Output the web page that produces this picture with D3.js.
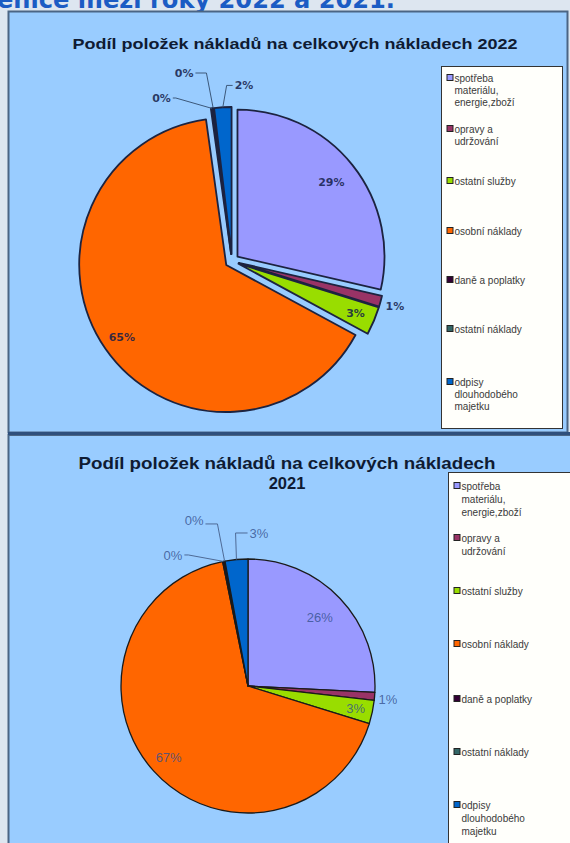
<!DOCTYPE html>
<html><head><meta charset="utf-8">
<script src="https://cdn.jsdelivr.net/npm/d3@7"></script>
<style>html,body{margin:0;padding:0;background:#dde6f0;overflow:hidden}</style>
</head><body><svg id="c" width="570" height="843"></svg>
<script>
// ---------- data ----------
const categories = ["spotřeba materiálu, energie,zboží","opravy a udržování","ostatní služby","osobní náklady","daně a poplatky","ostatní náklady","odpisy dlouhodobého majetku"];
const legendLines = [["spotřeba","materiálu,","energie,zboží"],["opravy a","udržování"],["ostatní služby"],["osobní náklady"],["daně a poplatky"],["ostatní náklady"],["odpisy","dlouhodobého","majetku"]];
const values2022 = [28.6, 1.2, 3.1, 64.9, 0.2, 0.1, 1.9];
const values2021 = [25.8, 1.0, 3.0, 67.0, 0.2, 0.1, 2.9];
const labels2022 = ["29%","1%","3%","65%","0%","0%","2%"];
const labels2021 = ["26%","1%","3%","67%","0%","0%","3%"];
const pageHeading = "enice mezi roky 2022 a 2021.";
const title2022 = "Podíl položek nákladů na celkových nákladech 2022";
const title2021 = ["Podíl položek nákladů na celkových nákladech","2021"];

// ---------- style ----------
const colors = ["#9999ff","#993366","#99dd00","#ff6600","#330033","#336666","#0066cc"];

const svg = d3.select("#c");

// page heading (cut off at top)
svg.append("text").attr("x",-3).attr("y",8)
  .attr("font-family","DejaVu Sans").attr("font-weight","bold").attr("font-size",24)
  .attr("fill","#1b5cc4").attr("textLength",398).attr("lengthAdjust","spacingAndGlyphs")
  .text(pageHeading);

// panels
svg.append("rect").attr("x",8.5).attr("y",11.5).attr("width",559).attr("height",421)
  .attr("fill","#99ccff").attr("stroke","#4b6584").attr("stroke-width",2);
svg.append("rect").attr("x",8.5).attr("y",435).attr("width",570).attr("height",420)
  .attr("fill","#99ccff").attr("stroke","#4b6584").attr("stroke-width",2);
svg.append("line").attr("x1",8).attr("x2",570).attr("y1",433.5).attr("y2",433.5)
  .attr("stroke","#2f4f7c").attr("stroke-width",3);

// titles
svg.append("text").attr("x",295).attr("y",49).attr("text-anchor","middle")
  .attr("font-family","Liberation Sans, Arial").attr("font-weight","bold").attr("font-size",15)
  .attr("fill","#0f1b33").attr("textLength",445).attr("lengthAdjust","spacingAndGlyphs")
  .text(title2022);
svg.append("text").attr("x",287).attr("y",469).attr("text-anchor","middle")
  .attr("font-family","Liberation Sans, Arial").attr("font-weight","bold").attr("font-size",16.5)
  .attr("fill","#0f1b33").attr("textLength",417).attr("lengthAdjust","spacingAndGlyphs")
  .text(title2021[0]);
svg.append("text").attr("x",287).attr("y",489).attr("text-anchor","middle")
  .attr("font-family","Liberation Sans, Arial").attr("font-weight","bold").attr("font-size",16.5)
  .attr("fill","#0f1b33").text(title2021[1]);

function drawPie(values, labels, opt){
  const pie = d3.pie().sort(null).value(d=>d);
  const arcs = pie(values);
  const arc = d3.arc().innerRadius(0).outerRadius(opt.r);
  const g = svg.append("g").attr("transform",`translate(${opt.cx},${opt.cy})`);
  const mid = d => (d.startAngle+d.endAngle)/2;
  g.selectAll("path").data(arcs).join("path")
    .attr("transform", d => `translate(${Math.sin(mid(d))*opt.explode},${-Math.cos(mid(d))*opt.explode})`)
    .attr("d", arc).attr("fill",(d,i)=>colors[i])
    .attr("stroke",opt.stroke).attr("stroke-width",opt.sw).attr("stroke-linejoin","round");
  arcs.forEach((d,i)=>{
    const lp = opt.labelPos[i];
    let x,y;
    if (lp.rf !== undefined){ const a = mid(d); x = Math.sin(a)*lp.rf; y = -Math.cos(a)*lp.rf; }
    else { const a = lp.a*Math.PI/180; x = Math.sin(a)*lp.r; y = -Math.cos(a)*lp.r; }
    const t = g.append("text").attr("x",x).attr("y",y).attr("dy","0.36em").attr("text-anchor","middle")
      .attr("font-family",opt.font).attr("font-weight",opt.weight).attr("font-size",opt.fs)
      .attr("fill",opt.lc).attr("fill-opacity",opt.lo).text(labels[i]);
    if (lp.elbow !== undefined){
      const w = t.node().getComputedTextLength();
      const a = mid(d), R = opt.r + opt.explode;
      const px = Math.sin(a)*R, py = -Math.cos(a)*R;
      const side = px > x ? 1 : -1;
      const sx = x + side*(w/2+2), sy = y + (lp.ly||0);
      const ex = sx + side*lp.elbow;
      g.append("path").attr("d",`M${sx},${sy}L${ex},${sy}L${px},${py}`)
        .attr("fill","none").attr("stroke",opt.leader).attr("stroke-width",1);
    }
  });
}

drawPie(values2022, labels2022, {
  cx:232, cy:261, r:147, explode:7, stroke:"#1c2340", sw:1.8,
  font:"DejaVu Sans", weight:"bold", fs:11, lc:"#141d4a", lo:0.85, leader:"#3c587a",
  labelPos:[{rf:127},{a:105.4,r:169},{rf:134},{rf:134},
            {a:336.6,r:177.6,elbow:3},{a:345.7,r:194,elbow:11},{a:3.9,r:176,elbow:6}]
});
drawPie(values2021, labels2021, {
  cx:248, cy:686, r:127, explode:0, stroke:"#1a1a1a", sw:1.3,
  font:"Liberation Sans, Arial", weight:"normal", fs:13, lc:"#34508e", lo:0.8, leader:"#4e6a96",
  labelPos:[{rf:99},{a:95.3,r:140.6},{rf:110},{rf:107},
            {a:330.2,r:151,elbow:4},{a:342,r:174.6,elbow:12,ly:4},{a:4.1,r:153.4,elbow:12}]
});

function drawLegend(box, firstY, lh, fs){
  svg.append("rect").attr("x",box.x).attr("y",box.y).attr("width",box.w).attr("height",box.h)
    .attr("fill","#fffffb").attr("stroke","#333").attr("stroke-width",1);
  const g = svg.append("g");
  legendLines.forEach((lines,i)=>{
    const y0 = firstY[i];
    g.append("rect").attr("x",box.x+5.5).attr("y",y0-3.5).attr("width",6).attr("height",6)
      .attr("fill",colors[i]).attr("stroke","#222").attr("stroke-width",1);
    lines.forEach((s,j)=>{
      g.append("text").attr("x",box.x+13).attr("y",y0+j*lh).attr("dy","0.35em")
        .attr("font-family","Liberation Sans, Arial").attr("font-size",fs).attr("fill","#3a3a3a")
        .text(s);
    });
  });
}
drawLegend({x:441.5,y:66.5,w:121,h:362},[78,129,181,231,280,329,382],12,10);
drawLegend({x:448.5,y:472.5,w:130,h:380},[486,538,591,644,699,752,805],13,10);
</script></body></html>
